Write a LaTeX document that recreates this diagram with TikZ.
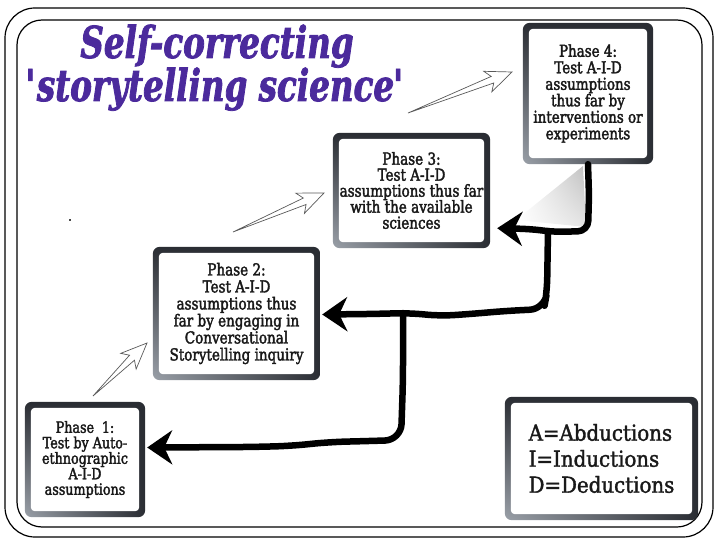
\documentclass[tikz,border=0pt]{standalone}
\usepackage{fontspec}
\setmainfont[FakeStretch=0.82,FakeBold=2.2]{DejaVu Serif}
\newfontfamily\legendfont[FakeStretch=0.9,FakeBold=1.6]{DejaVu Serif}
\newfontfamily\titlefont[FakeStretch=0.74,FakeBold=1.8]{DejaVu Serif}
\usetikzlibrary{arrows.meta,calc,backgrounds,shadings}
\definecolor{borddark}{HTML}{2A2D33}
\definecolor{bordlight}{HTML}{9AA0A8}
\definecolor{titlepurple}{HTML}{4B2A9C}
\tikzset{
  phase/.style={align=center, inner sep=0pt, text=black!90},
  thickarrow/.style={line width=6.5pt, line cap=round, line join=round,
    -{Stealth[length=25pt,width=34pt,inset=8pt]}},
  hollow/.style={draw=black!65, fill=white, line width=0.7pt, line join=miter},
  frameline/.style={draw=black, line width=1.2pt},
  titlestyle/.style={font=\titlefont\bfseries\itshape\fontsize{44}{44}\selectfont,
    text=titlepurple, inner sep=0pt, anchor=base}
}
\newcommand\myphaseframe[1]{%
  \shade[upper left=borddark, upper right=borddark, lower right=borddark,
    lower left=bordlight, rounded corners=7pt]
    (#1.north west) rectangle (#1.south east);
  \fill[white, rounded corners=4pt]
    ($(#1.north west)+(6,6)$) rectangle ($(#1.south east)+(-6,-6)$);
}
\newcommand\myhollowarrow[2]{%
  \draw[hollow] (#1)
    -- ($(#2)!21pt!(#1)!3.5pt!90:(#1)$)
    -- ($(#2)!26pt!(#1)!11pt!90:(#1)$)
    -- (#2)
    -- ($(#2)!26pt!(#1)!11pt!-90:(#1)$)
    -- ($(#2)!21pt!(#1)!3.5pt!-90:(#1)$)
    -- cycle;
}
\begin{document}
\begin{tikzpicture}[x=1pt,y=-1pt]
\useasboundingbox (0,0) rectangle (720,540);

% title
\node[titlestyle] (title1) at (217,58) {Self-correcting};
\node[titlestyle] (title2) at (216,101) {\textquotesingle\kern-2pt storytelling science\kern-1pt\textquotesingle};
\node[inner sep=0pt, font=\fontsize{12}{12}\selectfont] (dot) at (70,220) {.};

% phase boxes
\node[phase, minimum width=120pt, minimum height=115pt,
  font=\fontsize{15.5}{15.5}\selectfont] (p1) at (85,459.5)
  {Phase\enspace 1:\\Test by Auto-\\ethnographic\\A-I-D\\assumptions};
\node[phase, minimum width=167pt, minimum height=133pt,
  font=\fontsize{16.5}{17}\selectfont] (p2) at (236.5,313.5)
  {Phase 2:\\Test A-I-D\\assumptions thus\\far by engaging in\\Conversational\\Storytelling inquiry};
\node[phase, minimum width=157pt, minimum height=115pt,
  font=\fontsize{16.5}{16}\selectfont] (p3) at (411.5,190.5)
  {Phase 3:\\Test A-I-D\\assumptions thus far\\with the available\\sciences};
\node[phase, minimum width=130pt, minimum height=141pt,
  font=\fontsize{16.4}{16.5}\selectfont] (p4) at (588,93.5)
  {Phase 4:\\Test A-I-D\\assumptions\\thus far by\\interventions or\\experiments};
\node[phase, align=left, minimum width=193pt, minimum height=123pt,
  font=\legendfont\fontsize{22}{26}\selectfont] (legend) at (601.5,458.5)
  {A=Abductions\\I=Inductions\\D=Deductions};

\begin{scope}[on background layer]
  \draw[frameline, rounded corners=30pt] (5,8) rectangle (713,537);
  \draw[frameline, rounded corners=25pt] (17,20) rectangle (702,527);
  \myphaseframe{p1}\myphaseframe{p2}\myphaseframe{p3}\myphaseframe{p4}\myphaseframe{legend}
\end{scope}

% hollow arrows between phases
\coordinate (a1s) at (93,396);  \coordinate (a1e) at (147,343);
\coordinate (a2s) at (233,232); \coordinate (a2e) at (324,193);
\coordinate (a3s) at (408,113); \coordinate (a3e) at (512,72);
\myhollowarrow{a1s}{a1e}
\myhollowarrow{a2s}{a2e}
\myhollowarrow{a3s}{a3e}

% shading under phase 4
\shade[upper right=black!25, upper left=white, lower left=white, lower right=black!10]
  (583,166) -- (516,220) -- (586,227) -- cycle;

% thick return arrows
\coordinate (t3) at ($(p3.south east)+(7,-20)$);
\coordinate (t2) at ($(p2.east)+(2,1)$);
\coordinate (t1) at ($(p1.east)+(2,-12)$);
\coordinate (j1) at (548,231);
\coordinate (j2) at (403,313);
\draw[thickarrow, rounded corners=10pt] (p4.south) -- (589,195) -- (588,231)
  -- (555,232) -- (530,229) -- (t3);
\draw[thickarrow, rounded corners=14pt] (j1) -- (547,292) -- (544,309)
  -- (505,311) -- (470,314) -- (440,316) -- (410,313) -- (370,314) -- (t2);
\draw[thickarrow, rounded corners=16pt] (j2) -- (403,380) -- (401,440)
  -- (370,441) -- (330,442) -- (290,446) -- (250,447) -- (t1);
\end{tikzpicture}
\end{document}
